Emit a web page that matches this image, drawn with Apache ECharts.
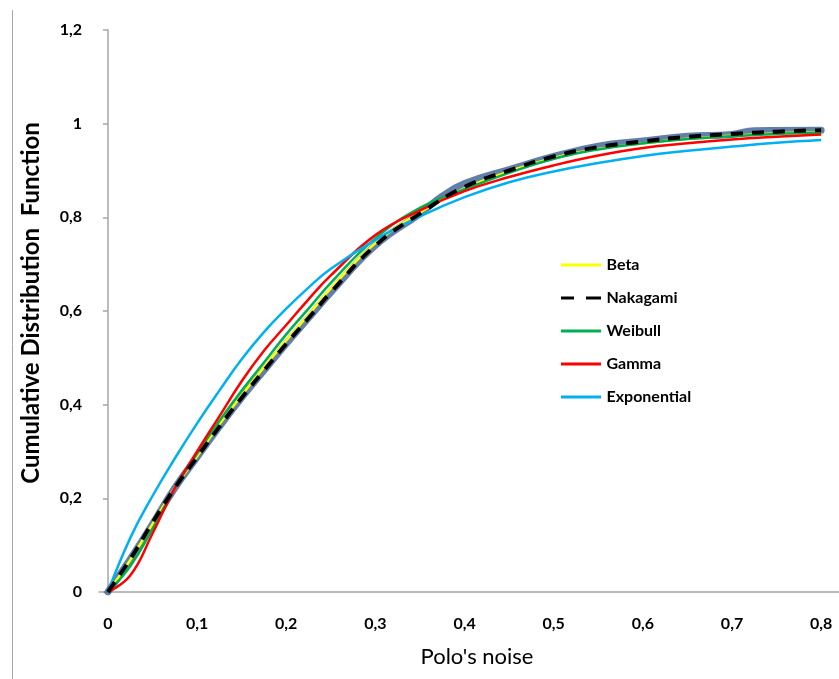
<!DOCTYPE html>
<html>
<head>
<meta charset="utf-8">
<script src="https://cdn.jsdelivr.net/npm/echarts@6/dist/echarts.min.js"></script>
<style>
html,body{margin:0;padding:0;background:#fff;}
#chart{width:839px;height:679px;}
</style>
</head>
<body>
<div id="chart"></div>
<script>
// ---- data ----
var xFit = [0, 0.025, 0.05, 0.075, 0.1, 0.125, 0.15, 0.175, 0.2, 0.225, 0.25, 0.3, 0.35, 0.4, 0.45, 0.5, 0.55, 0.6, 0.65, 0.7, 0.75, 0.8];
var beta        = [0, 0.068, 0.145, 0.222, 0.29, 0.358, 0.42, 0.48, 0.537, 0.592, 0.648, 0.745, 0.81, 0.862, 0.898, 0.927, 0.946, 0.958, 0.968, 0.974, 0.979, 0.982];
var nakagami    = [0, 0.07, 0.148, 0.222, 0.288, 0.353, 0.415, 0.473, 0.53, 0.585, 0.64, 0.74, 0.808, 0.865, 0.9, 0.93, 0.95, 0.962, 0.972, 0.978, 0.983, 0.986];
var weibull     = [0, 0.055, 0.135, 0.222, 0.295, 0.365, 0.43, 0.49, 0.55, 0.605, 0.66, 0.755, 0.82, 0.86, 0.895, 0.925, 0.945, 0.958, 0.967, 0.973, 0.978, 0.981];
var gamma       = [0, 0.035, 0.125, 0.222, 0.30, 0.375, 0.45, 0.515, 0.57, 0.625, 0.676, 0.762, 0.815, 0.856, 0.886, 0.911, 0.932, 0.948, 0.958, 0.966, 0.972, 0.977];
var exponential = [0, 0.115, 0.205, 0.285, 0.36, 0.43, 0.497, 0.555, 0.605, 0.65, 0.69, 0.752, 0.802, 0.843, 0.875, 0.898, 0.916, 0.931, 0.942, 0.951, 0.959, 0.965];
var xEmp = [0, 0.025, 0.05, 0.075, 0.1, 0.125, 0.15, 0.175, 0.2, 0.225, 0.25, 0.3, 0.35, 0.375, 0.4, 0.45, 0.5, 0.55, 0.6, 0.65, 0.7, 0.725, 0.8];
var empirical = [0, 0.07, 0.145, 0.222, 0.288, 0.353, 0.415, 0.473, 0.53, 0.585, 0.64, 0.74, 0.808, 0.845, 0.872, 0.902, 0.93, 0.952, 0.963, 0.973, 0.977, 0.985, 0.986];
var xTicks = [0, 0.1, 0.2, 0.3, 0.4, 0.5, 0.6, 0.7, 0.8];
var legendNames = ['Beta', 'Nakagami', 'Weibull', 'Gamma', 'Exponential'];
var xTitle = "Polo's noise";
var yTitle = 'Cumulative Distribution  Function';

function pairs(xs, ys) { return xs.map(function (x, i) { return [x, ys[i]]; }); }
function fmt(v) { return String(Math.round(v * 10) / 10).replace('.', ','); }

var SOLID_ICON = 'path://M0,0 H40 V3 H0 Z';
var DASH_ICON = 'path://M0,0 H13 V3 H0 Z M25,0 H40 V3 H25 Z';

var FONT = 'Lato, "Open Sans", sans-serif';
var chart = echarts.init(document.getElementById('chart'));
function lineSeries(name, xs, ys, color, width, z, dash) {
  return {
    name: name, type: 'line', smooth: 0.45, symbol: 'none',
    data: pairs(xs, ys), z: z,
    itemStyle: { color: color },
    lineStyle: { color: color, width: width, type: dash || 'solid' }
  };
}
chart.setOption({
  animation: false,
  backgroundColor: '#fff',
  grid: { left: 99, right: 0, top: 30, bottom: 87, containLabel: false },
  graphic: [
    { type: 'line', shape: { x1: 12.5, y1: 10, x2: 12.5, y2: 679 },
      style: { stroke: '#a6a6a6', lineWidth: 1 } },
    { type: 'text', x: 31, y: 303, rotation: Math.PI / 2,
      style: { text: yTitle, fill: '#000', font: 'bold 24px ' + FONT, textAlign: 'center', textVerticalAlign: 'middle' } }
  ],
  legend: {
    data: legendNames.map(function (n) { return { name: n, icon: n === 'Nakagami' ? DASH_ICON : SOLID_ICON }; }),
    orient: 'vertical', left: 561, top: 257, padding: 0,
    itemWidth: 41, itemHeight: 3, itemGap: 17,
    textStyle: { fontFamily: FONT, fontWeight: 'bold', fontSize: 16, color: '#000' }
  },
  xAxis: {
    type: 'value', min: -0.01, max: 0.82,
    name: xTitle, nameLocation: 'middle', nameGap: 54,
    nameTextStyle: { fontFamily: FONT, fontSize: 22, color: '#000', fontWeight: 'normal', padding: [0, 0, 0, 16] },
    axisLine: { show: true, lineStyle: { color: '#a6a6a6', width: 1.5 } },
    axisTick: { show: false },
    splitLine: { show: false },
    axisLabel: { customValues: xTicks, formatter: fmt, margin: 24, fontFamily: FONT, fontWeight: 'bold', fontSize: 16, color: '#000' }
  },
  yAxis: {
    type: 'value', min: 0, max: 1.2, interval: 0.2,
    axisLine: { show: true, lineStyle: { color: '#a6a6a6', width: 1.5 } },
    axisTick: { show: true, length: 5, lineStyle: { color: '#a6a6a6', width: 1.5 } },
    splitLine: { show: false },
    axisLabel: { formatter: fmt, margin: 17, fontFamily: FONT, fontWeight: 'bold', fontSize: 16, color: '#000' }
  },
  series: [
    { name: 'Empirical', type: 'line', smooth: 0.45, symbol: 'none', data: pairs(xEmp, empirical), z: 1,
      lineStyle: { color: 'rgba(70,105,155,0.85)', width: 7, cap: 'round', join: 'round' } },
    lineSeries('Beta', xFit, beta, '#ffff00', 2.5, 2),
    lineSeries('Weibull', xFit, weibull, '#00b050', 2.5, 3),
    lineSeries('Gamma', xFit, gamma, '#ff0000', 2.5, 4),
    lineSeries('Exponential', xFit, exponential, '#00b0f0', 2.5, 5),
    lineSeries('Nakagami', xFit, nakagami, '#000000', 4, 6, [12, 9])
  ]
});
</script>
</body>
</html>
